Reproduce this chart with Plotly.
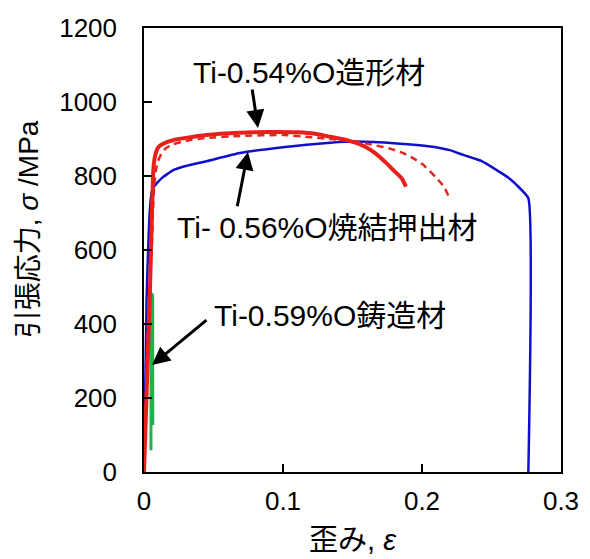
import plotly.graph_objects as go

# 造形材 (red solid)
strain_am = [0, 0.004, 0.0058, 0.0067, 0.0075, 0.0085, 0.010, 0.0125, 0.016, 0.021,
             0.03, 0.045, 0.069, 0.09, 0.11, 0.125, 0.134, 0.146, 0.158, 0.167,
             0.1746, 0.1805, 0.1854, 0.1885]
stress_am = [0, 450, 708, 816, 845, 862, 876, 885, 891, 897,
             903, 911, 917, 919, 918, 913, 906, 897, 881, 860,
             834, 812, 794, 771]

# red dashed
strain_dash = [0, 0.003, 0.0055, 0.0068, 0.0078, 0.0086, 0.010, 0.0127, 0.016, 0.021,
               0.03, 0.045, 0.069, 0.1, 0.12, 0.134, 0.153, 0.165, 0.177, 0.1865,
               0.195, 0.201, 0.2106, 0.216, 0.219]
stress_dash = [0, 430, 600, 740, 790, 816, 840, 862, 876, 886,
               895, 903, 908, 911, 905, 900, 893, 884, 874, 862,
               845, 830, 794, 770, 746]

# 焼結押出材 (blue)
strain_ext = [0, 0.0019, 0.0029, 0.0038, 0.0048, 0.0058, 0.007, 0.0091, 0.013, 0.021,
              0.03, 0.045, 0.069, 0.1, 0.134, 0.153, 0.182, 0.206, 0.22, 0.2297,
              0.243, 0.2537, 0.262, 0.268, 0.2765, 0.2765]
stress_ext = [0, 473, 592, 681, 735, 760, 770, 780, 795, 816,
              827, 840, 862, 878, 890, 893, 888, 880, 870, 857,
              840, 816, 796, 776, 740, 0]

# 鋳造材 (green)
strain_cast = [0.0050, 0.0052, 0.0062, 0.0063]
stress_cast = [59, 483, 478, 127]

x_ticks = [0, 0.1, 0.2, 0.3]
y_ticks = [0, 200, 400, 600, 800, 1000, 1200]

FONT = "Liberation Sans, Arial, Noto Sans CJK JP, sans-serif"

fig = go.Figure()
fig.add_trace(go.Scatter(x=strain_cast, y=stress_cast, mode="lines",
                         line=dict(color="#22b04b", width=3)))
fig.add_trace(go.Scatter(x=strain_ext, y=stress_ext, mode="lines",
                         line=dict(color="#1010cc", width=2.5, shape="spline", smoothing=0.4)))
fig.add_trace(go.Scatter(x=strain_dash, y=stress_dash, mode="lines",
                         line=dict(color="#e8251f", width=2.5, dash="7px,5px",
                                   shape="spline", smoothing=0.4)))
fig.add_trace(go.Scatter(x=strain_am, y=stress_am, mode="lines",
                         line=dict(color="#e8201c", width=4, shape="spline", smoothing=0.4)))

labels = [
    ("Ti-0.54%O造形材", 0.1187, 1081, 0.082, 930, 0.0777, 1038),
    ("Ti- 0.56%O焼結押出材", 0.1317, 662, 0.0748, 865, 0.0669, 714),
    ("Ti-0.59%O鋳造材", 0.1338, 424, 0.0058, 289, 0.046, 414),
]
for text, tx, ty, hx, hy, ax, ay in labels:
    fig.add_annotation(x=tx, y=ty, text=text, showarrow=False,
                       font=dict(size=30, color="black", family=FONT))
    fig.add_annotation(x=hx, y=hy, ax=ax, ay=ay, xref="x", yref="y",
                       axref="x", ayref="y", text="", showarrow=True,
                       arrowhead=2, arrowsize=1.2, arrowwidth=3,
                       arrowcolor="black")

# y-axis title placed by hand
fig.add_annotation(x=-0.278, y=0.547, xref="paper", yref="paper",
                   text="引張応力, <i>σ</i> /MPa", textangle=-90, showarrow=False,
                   xanchor="center", yanchor="middle",
                   font=dict(size=28, color="black", family=FONT))

axis_style = dict(showline=True, linecolor="black", linewidth=1.5, mirror=True,
                  ticks="inside", ticklen=8, tickwidth=1.5, tickcolor="black",
                  showgrid=False, zeroline=False, automargin=False,
                  tickfont=dict(size=26, color="black", family=FONT))

fig.update_layout(
    width=590, height=559,
    margin=dict(l=136, r=37, t=20, b=95),
    paper_bgcolor="white", plot_bgcolor="white",
    showlegend=False,
    font=dict(family=FONT, color="black"),
    xaxis=dict(range=[0, 0.3], tickvals=x_ticks,
               ticktext=[str(v) for v in x_ticks],
               title=dict(text="歪み, <i>ε</i>", font=dict(size=29), standoff=15),
               ticklabelstandoff=5, **axis_style),
    yaxis=dict(range=[0, 1200], tickvals=y_ticks,
               ticklabelstandoff=20, **axis_style),
)

fig.write_html("out.html")
